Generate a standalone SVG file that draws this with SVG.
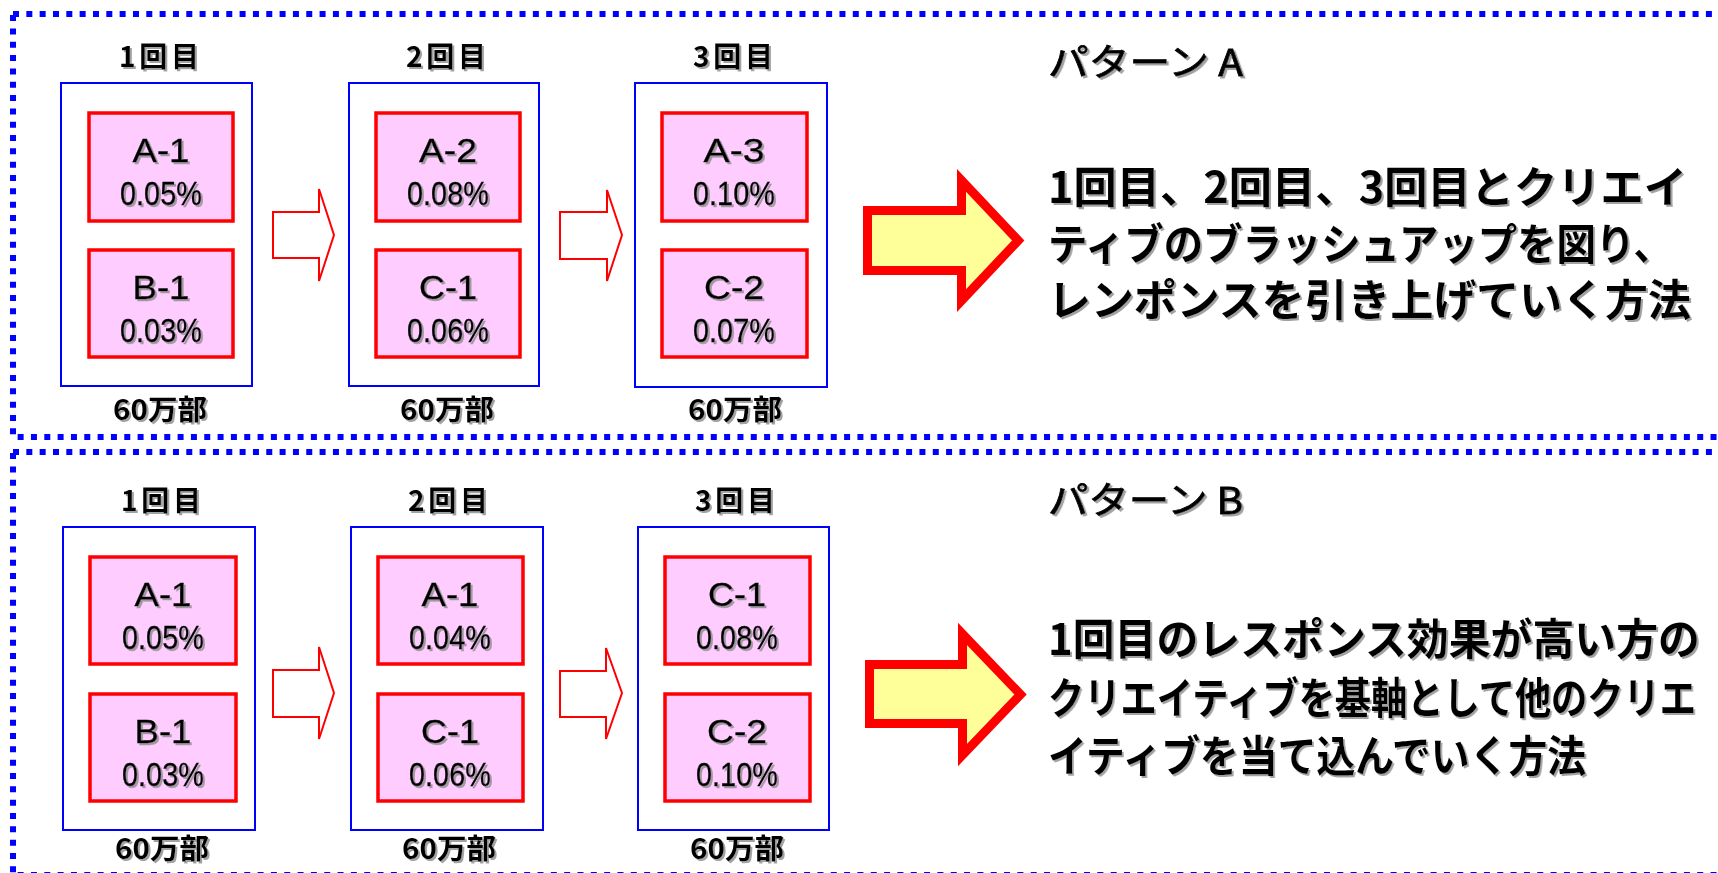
<svg xmlns="http://www.w3.org/2000/svg" width="1718" height="873" viewBox="0 0 1718 873">
  <defs>
    <filter id="sh" x="-10%" y="-40%" width="120%" height="180%">
      <feDropShadow dx="2" dy="2" stdDeviation="0.6" flood-color="#8a8a8a" flood-opacity="0.8"/>
    </filter>
    <style>
      .frame { fill: none; stroke: #0000FF; stroke-width: 6; stroke-dasharray: 6 7.33; }
      .round { fill: #FFFFFF; stroke: #0000FF; stroke-width: 2; }
      .card { fill: #FFCCFF; stroke: #FF0000; stroke-width: 3.5; }
      .small { fill: #FFFFFF; stroke: #FF0000; stroke-width: 2; stroke-linejoin: miter; }
      .big { fill: #FFFF99; stroke: #FF0000; stroke-width: 9; stroke-linejoin: miter; stroke-miterlimit: 10; }
      text { fill: #000000; filter: url(#sh); }
      .lbl { font-family: "Liberation Sans", "Noto Sans CJK JP", sans-serif; font-size: 33px; text-anchor: middle; stroke: #000000; stroke-width: 0.3; }
      .hdr { font-family: "Noto Sans CJK JP", "Liberation Sans", sans-serif; font-size: 28px; font-weight: bold; text-anchor: middle; }
      .qty { font-family: "Noto Sans CJK JP", "Liberation Sans", sans-serif; font-size: 28px; font-weight: bold; text-anchor: middle; }
      .ttl { font-family: "Noto Sans CJK JP", "Liberation Sans", sans-serif; font-size: 37px; font-weight: normal; stroke: #000000; stroke-width: 0.8; }
      .body { font-family: "Noto Sans CJK JP", "Liberation Sans", sans-serif; font-size: 43px; font-weight: bold; }
    </style>
  </defs>
  <rect width="1718" height="873" fill="#FFFFFF"/>

  <g id="frames">
    <rect class="frame" x="13" y="14" width="1720" height="423"/>
    <rect class="frame" x="13" y="452" width="1720" height="423"/>
  </g>

  <!-- Pattern A -->
  <g id="a-round1">
    <text class="hdr" x="159" y="67" textLength="80" lengthAdjust="spacing">1回目</text>
    <rect class="round" x="61" y="83" width="191" height="303"/>
    <text class="qty" x="160" y="420" textLength="94" lengthAdjust="spacingAndGlyphs">60万部</text>
  </g>
  <g id="a-card-a1">
    <rect class="card" x="89" y="113" width="144" height="108"/>
    <text class="lbl" x="161" y="162" textLength="57" lengthAdjust="spacingAndGlyphs">A-1</text>
    <text class="lbl" x="161" y="205" textLength="82" lengthAdjust="spacingAndGlyphs">0.05%</text>
  </g>
  <g id="a-card-b1">
    <rect class="card" x="89" y="250" width="144" height="107"/>
    <text class="lbl" x="161" y="299" textLength="57" lengthAdjust="spacingAndGlyphs">B-1</text>
    <text class="lbl" x="161" y="342" textLength="82" lengthAdjust="spacingAndGlyphs">0.03%</text>
  </g>

  <g id="a-round2">
    <text class="hdr" x="446" y="67" textLength="80" lengthAdjust="spacing">2回目</text>
    <rect class="round" x="349" y="83" width="190" height="303"/>
    <text class="qty" x="447" y="420" textLength="94" lengthAdjust="spacingAndGlyphs">60万部</text>
  </g>
  <g id="a-card-a2">
    <rect class="card" x="376" y="113" width="144" height="108"/>
    <text class="lbl" x="448" y="162" textLength="58" lengthAdjust="spacingAndGlyphs">A-2</text>
    <text class="lbl" x="448" y="205" textLength="82" lengthAdjust="spacingAndGlyphs">0.08%</text>
  </g>
  <g id="a-card-c1">
    <rect class="card" x="376" y="250" width="144" height="107"/>
    <text class="lbl" x="448" y="299" textLength="58" lengthAdjust="spacingAndGlyphs">C-1</text>
    <text class="lbl" x="448" y="342" textLength="82" lengthAdjust="spacingAndGlyphs">0.06%</text>
  </g>

  <g id="a-round3">
    <text class="hdr" x="733" y="67" textLength="80" lengthAdjust="spacing">3回目</text>
    <rect class="round" x="635" y="83" width="192" height="304"/>
    <text class="qty" x="735" y="420" textLength="94" lengthAdjust="spacingAndGlyphs">60万部</text>
  </g>
  <g id="a-card-a3">
    <rect class="card" x="662" y="113" width="145" height="108"/>
    <text class="lbl" x="734" y="162" textLength="61" lengthAdjust="spacingAndGlyphs">A-3</text>
    <text class="lbl" x="734" y="205" textLength="82" lengthAdjust="spacingAndGlyphs">0.10%</text>
  </g>
  <g id="a-card-c2">
    <rect class="card" x="662" y="250" width="145" height="107"/>
    <text class="lbl" x="734" y="299" textLength="60" lengthAdjust="spacingAndGlyphs">C-2</text>
    <text class="lbl" x="734" y="342" textLength="82" lengthAdjust="spacingAndGlyphs">0.07%</text>
  </g>

  <g id="a-text">
    <text class="ttl" transform="translate(1048,76) scale(1.09,1)" x="0" y="0" textLength="179" lengthAdjust="spacingAndGlyphs">パターン A</text>
    <text class="body" transform="translate(1048,203) scale(1.01,1)" x="0" y="0" textLength="632.7" lengthAdjust="spacingAndGlyphs">1回目、2回目、3回目とクリエイ</text>
    <text class="body" transform="translate(1048,260) scale(0.908,1)" x="0" y="0" textLength="688.3" lengthAdjust="spacingAndGlyphs">ティブのブラッシュアップを図り、</text>
    <text class="body" transform="translate(1048,316) scale(0.997,1)" x="0" y="0" textLength="644.9" lengthAdjust="spacingAndGlyphs">レンポンスを引き上げていく方法</text>
  </g>

  <!-- Pattern B -->
  <g id="b-round1">
    <text class="hdr" x="161" y="511" textLength="80" lengthAdjust="spacing">1回目</text>
    <rect class="round" x="63" y="527" width="192" height="303"/>
    <text class="qty" x="162" y="859" textLength="94" lengthAdjust="spacingAndGlyphs">60万部</text>
  </g>
  <g id="b-card-a1">
    <rect class="card" x="90" y="557" width="146" height="107"/>
    <text class="lbl" x="163" y="606" textLength="57" lengthAdjust="spacingAndGlyphs">A-1</text>
    <text class="lbl" x="163" y="649" textLength="82" lengthAdjust="spacingAndGlyphs">0.05%</text>
  </g>
  <g id="b-card-b1">
    <rect class="card" x="90" y="694" width="146" height="107"/>
    <text class="lbl" x="163" y="743" textLength="57" lengthAdjust="spacingAndGlyphs">B-1</text>
    <text class="lbl" x="163" y="786" textLength="82" lengthAdjust="spacingAndGlyphs">0.03%</text>
  </g>

  <g id="b-round2">
    <text class="hdr" x="448" y="511" textLength="80" lengthAdjust="spacing">2回目</text>
    <rect class="round" x="351" y="527" width="192" height="303"/>
    <text class="qty" x="449" y="859" textLength="94" lengthAdjust="spacingAndGlyphs">60万部</text>
  </g>
  <g id="b-card-a1b">
    <rect class="card" x="378" y="557" width="145" height="107"/>
    <text class="lbl" x="450" y="606" textLength="57" lengthAdjust="spacingAndGlyphs">A-1</text>
    <text class="lbl" x="450" y="649" textLength="82" lengthAdjust="spacingAndGlyphs">0.04%</text>
  </g>
  <g id="b-card-c1">
    <rect class="card" x="378" y="694" width="145" height="107"/>
    <text class="lbl" x="450" y="743" textLength="58" lengthAdjust="spacingAndGlyphs">C-1</text>
    <text class="lbl" x="450" y="786" textLength="82" lengthAdjust="spacingAndGlyphs">0.06%</text>
  </g>

  <g id="b-round3">
    <text class="hdr" x="735" y="511" textLength="80" lengthAdjust="spacing">3回目</text>
    <rect class="round" x="638" y="527" width="191" height="303"/>
    <text class="qty" x="737" y="859" textLength="94" lengthAdjust="spacingAndGlyphs">60万部</text>
  </g>
  <g id="b-card-c1b">
    <rect class="card" x="665" y="557" width="145" height="107"/>
    <text class="lbl" x="737" y="606" textLength="58" lengthAdjust="spacingAndGlyphs">C-1</text>
    <text class="lbl" x="737" y="649" textLength="82" lengthAdjust="spacingAndGlyphs">0.08%</text>
  </g>
  <g id="b-card-c2">
    <rect class="card" x="665" y="694" width="145" height="107"/>
    <text class="lbl" x="737" y="743" textLength="60" lengthAdjust="spacingAndGlyphs">C-2</text>
    <text class="lbl" x="737" y="786" textLength="82" lengthAdjust="spacingAndGlyphs">0.10%</text>
  </g>

  <g id="b-text">
    <text class="ttl" transform="translate(1048,514) scale(1.09,1)" x="0" y="0" textLength="179" lengthAdjust="spacingAndGlyphs">パターン B</text>
    <text class="body" transform="translate(1048,655) scale(0.974,1)" x="0" y="0" textLength="669.4" lengthAdjust="spacingAndGlyphs">1回目のレスポンス効果が高い方の</text>
    <text class="body" transform="translate(1048,714) scale(0.837,1)" x="0" y="0" textLength="774.2" lengthAdjust="spacingAndGlyphs">クリエイティブを基軸として他のクリエ</text>
    <text class="body" transform="translate(1048,772) scale(0.894,1)" x="0" y="0" textLength="601.8" lengthAdjust="spacingAndGlyphs">イティブを当て込んでいく方法</text>
  </g>

  <g id="connectors">
    <polygon class="small" points="273,212 319,212 319,189 334,235 319,281 319,258 273,258"/>
    <polygon class="small" points="560,212 607,212 607,190 622,235 607,281 607,259 560,259"/>
    <polygon class="small" points="273,670 319,670 319,647 334,693 319,739 319,717 273,717"/>
    <polygon class="small" points="560,671 606,671 606,648 622,693 606,739 606,717 560,717"/>
    <polygon class="big" points="867.5,210.5 961.5,210.5 961.5,180.4 1018.2,240.5 961.5,300.6 961.5,270.5 867.5,270.5"/>
    <polygon class="big" points="869.5,664.5 962.5,664.5 962.5,634 1020.5,694.5 962.5,755 962.5,723.5 869.5,723.5"/>
  </g>
</svg>
